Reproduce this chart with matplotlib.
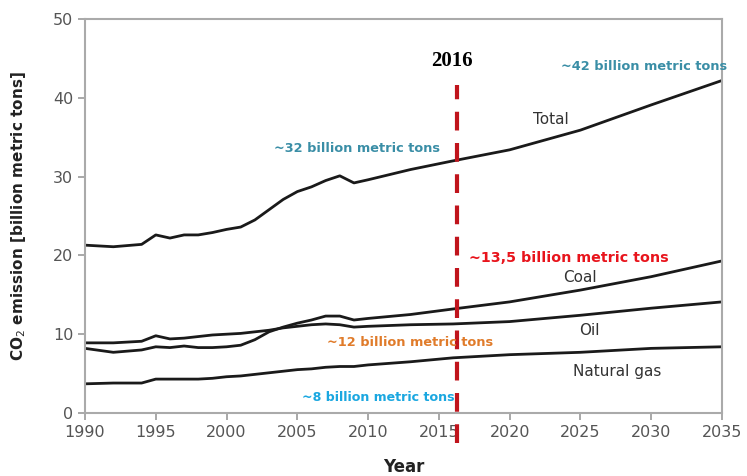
import matplotlib.pyplot as plt

years_hist = [1990, 1992, 1994, 1995, 1996, 1997, 1998, 1999, 2000, 2001, 2002, 2003,
              2004, 2005, 2006, 2007, 2008, 2009, 2010, 2013, 2016, 2020, 2025, 2030, 2035]
total = [21.3, 21.1, 21.4, 22.6, 22.2, 22.6, 22.6, 22.9, 23.3, 23.6, 24.5, 25.8,
         27.1, 28.1, 28.7, 29.5, 30.1, 29.2, 29.6, 30.9, 32.0, 33.4, 35.9, 39.1, 42.2]

coal = [8.2, 7.7, 8.0, 8.4, 8.3, 8.5, 8.3, 8.3, 8.4, 8.6, 9.3, 10.3,
        10.9, 11.4, 11.8, 12.3, 12.3, 11.8, 12.0, 12.5, 13.2, 14.1, 15.6, 17.3, 19.3]
oil = [8.9, 8.9, 9.1, 9.8, 9.4, 9.5, 9.7, 9.9, 10.0, 10.1, 10.3, 10.5,
       10.8, 11.0, 11.2, 11.3, 11.2, 10.9, 11.0, 11.2, 11.3, 11.6, 12.4, 13.3, 14.1]
gas = [3.7, 3.8, 3.8, 4.3, 4.3, 4.3, 4.3, 4.4, 4.6, 4.7, 4.9, 5.1,
       5.3, 5.5, 5.6, 5.8, 5.9, 5.9, 6.1, 6.5, 7.0, 7.4, 7.7, 8.2, 8.4]

x_ticks = [1990, 1995, 2000, 2005, 2010, 2015, 2020, 2025, 2030, 2035]
y_ticks = [0, 10, 20, 30, 40, 50]

fig = plt.figure(figsize=(7.47, 4.76), dpi=100)
ax = fig.add_axes([0.1138, 0.1324, 0.8527, 0.8276])

for series in (total, coal, oil, gas):
    ax.plot(years_hist, series, color="#1a1a1a", lw=2)

ax.set_xlim(1990, 2035)
ax.set_ylim(0, 50)
ax.set_xticks(x_ticks)
ax.set_yticks(y_ticks)
ax.tick_params(colors="#999999", labelcolor="#555555", labelsize=11.5, length=5, width=1.2)
for s in ax.spines.values():
    s.set_color("#aaaaaa")
    s.set_linewidth(1.5)

# 2016 marker
ax.plot([2016.3, 2016.3], [-3.8, 41.6], color="#c0141c", lw=3, ls=(0, (4.5, 3)), clip_on=False)
ax.text(2015.9, 44.7, "2016", family="Liberation Serif", weight="bold", fontsize=15,
        ha="center", va="center", color="black")

teal = "#3a8ea6"
ax.text(2029.5, 44.0, "~42 billion metric tons", color=teal, weight="bold", fontsize=9.3,
        ha="center", va="center")
ax.text(2009.2, 33.6, "~32 billion metric tons", color=teal, weight="bold", fontsize=9.3,
        ha="center", va="center")
ax.text(2022.9, 37.2, "Total", color="#333333", fontsize=11, ha="center", va="center")
ax.text(2017.1, 19.7, "~13,5 billion metric tons", color="#e8141c", weight="bold",
        fontsize=10.3, ha="left", va="center")
ax.text(2025.0, 17.2, "Coal", color="#333333", fontsize=11, ha="center", va="center")
ax.text(2025.6, 10.5, "Oil", color="#333333", fontsize=11, ha="center", va="center")
ax.text(2007.1, 8.9, "~12 billion metric tons", color="#e07b2a", weight="bold",
        fontsize=9.3, ha="left", va="center")
ax.text(2027.6, 5.3, "Natural gas", color="#333333", fontsize=11, ha="center", va="center")
ax.text(2005.3, 2.0, "~8 billion metric tons", color="#1aa7e0", weight="bold",
        fontsize=9.1, ha="left", va="center")

ax.set_ylabel("CO$_2$ emission [billion metric tons]", weight="bold", fontsize=11,
              color="#222222", labelpad=18)
ax.set_xlabel("Year", weight="bold", fontsize=12, color="#222222", labelpad=13)

fig.savefig("out.png", dpi=100)
